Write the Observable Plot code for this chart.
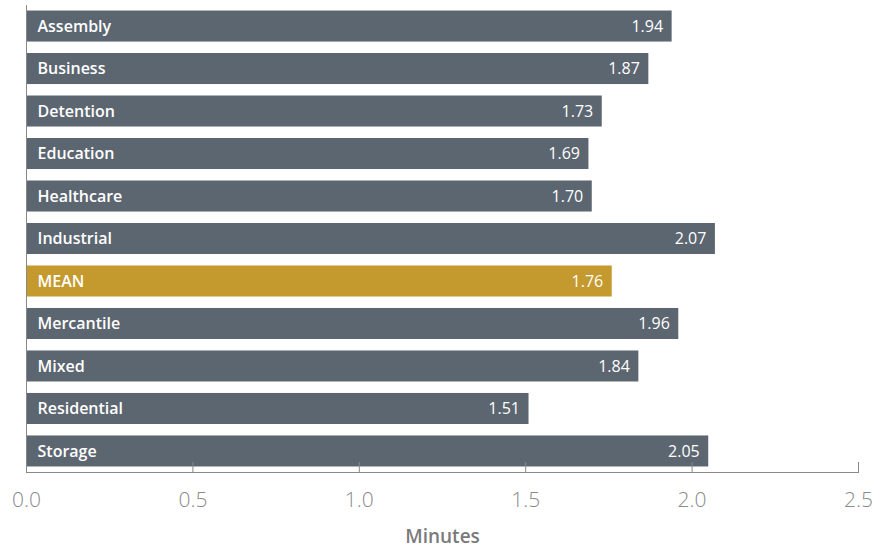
<!DOCTYPE html>
<html><head><meta charset="utf-8">
<script src="https://cdn.jsdelivr.net/npm/d3@7"></script>
<script src="https://cdn.jsdelivr.net/npm/@observablehq/plot@0.6"></script>
<style>body{margin:0;background:#fff;font-family:"Open Sans",sans-serif}</style>
</head><body><div id="chart"></div>
<script>
const categories = ["Assembly","Business","Detention","Education","Healthcare","Industrial","MEAN","Mercantile","Mixed","Residential","Storage"];
const values = [1.94,1.87,1.73,1.69,1.70,2.07,1.76,1.96,1.84,1.51,2.05];
const xTicks = [0,0.5,1,1.5,2,2.5];
const data = categories.map((c,i)=>({category:c,value:values[i]}));
const chart = Plot.plot({
  width: 876, height: 550,
  marginTop: 5, marginBottom: 78, marginLeft: 26, marginRight: 18,
  style: {fontFamily: '"Open Sans", sans-serif'},
  x: {domain:[0,2.5]},
  y: {domain: categories, paddingInner: 0.27, paddingOuter: 0.13, round: false, axis: null},
  marks: [
    Plot.barX(data, {x:"value", y:"category", fill: d => d.category==="MEAN" ? "#c49a2e" : "#5c6670"}),
    Plot.text(data, {x:0, y:"category", text:"category", textAnchor:"start", dx:11, fill:"#fff", fontSize:16, fontWeight:600}),
    Plot.text(data, {x:"value", y:"category", text: d=>d.value.toFixed(2), textAnchor:"end", dx:-9, fill:"#fff", fontSize:16}),
    Plot.ruleX(xTicks, {x: d=>d, insetTop: 457, stroke:"#888"}),
    Plot.frame({anchor:"bottom", stroke:"#888"}),
    Plot.frame({anchor:"left", stroke:"#888"}),
    Plot.axisX(xTicks, {tickSize:0, tickPadding:20, tickFormat: d=>d.toFixed(1), fontSize:21, fontWeight:300, color:"#8a8a8a", label:null}),
    Plot.axisX([], {tickSize:0, fontSize:19, fontWeight:600, color:"#7a7a7a", label:"Minutes", labelAnchor:"center", labelOffset:70, labelArrow:"none"})
  ]
});
document.getElementById("chart").appendChild(chart);
</script></body></html>
